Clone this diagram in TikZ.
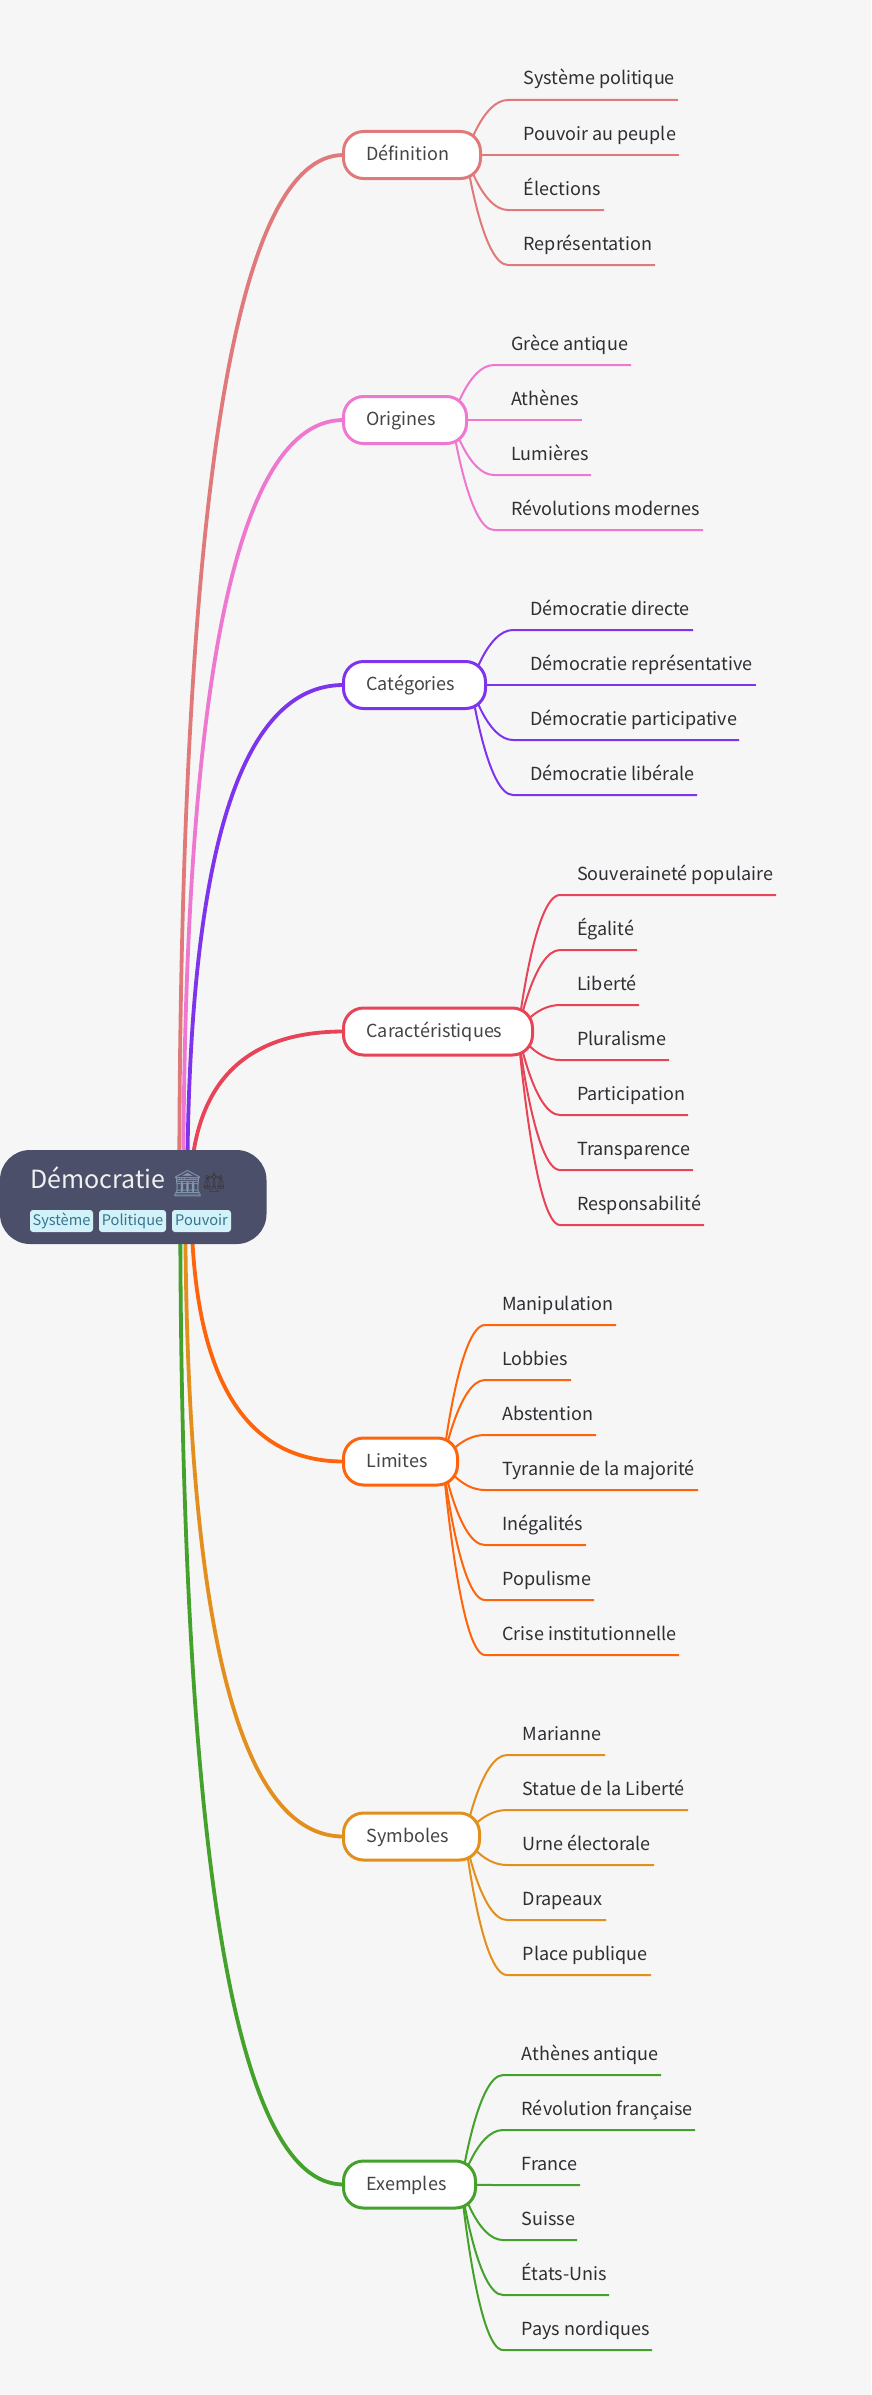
\documentclass[tikz,border=0pt]{standalone}
\usepackage{fontspec}
\setmainfont{Noto Sans CJK SC}
\newfontfamily\emojifont{Noto Emoji}
\usetikzlibrary{backgrounds,calc}
\definecolor{cbg}{HTML}{F6F6F6}
\definecolor{croot}{HTML}{4C4F69}
\definecolor{ctagbg}{HTML}{D3F1F8}
\definecolor{ctagfg}{HTML}{33758F}
\definecolor{cleaf}{HTML}{2E2E33}
\definecolor{cbox}{HTML}{444446}
\definecolor{cicona}{HTML}{8297AD}
\definecolor{ciconb}{HTML}{3A3A3E}
\definecolor{cA}{HTML}{E07A7A}
\definecolor{cB}{HTML}{EE77D0}
\definecolor{cC}{HTML}{7E34EC}
\definecolor{cD}{HTML}{E84457}
\definecolor{cE}{HTML}{FE640B}
\definecolor{cF}{HTML}{E38F1E}
\definecolor{cG}{HTML}{44A12B}
\tikzset{
  rootbox/.style={fill=croot,rounded corners=30pt,minimum width=266.5pt,minimum height=94pt,inner sep=0pt,outer sep=0pt},
  roottitle/.style={anchor=base west,inner sep=0pt,text=white!94!black,font=\fontsize{25}{30}\selectfont},
  tagbox/.style={fill=ctagbg,rounded corners=3pt,inner sep=0pt,text=ctagfg,minimum height=22pt,font=\fontsize{14.6}{18}\selectfont,text height=12pt,text depth=3pt},
  branchbox/.style={draw=#1,fill=white,line width=3pt,rounded corners=20pt,minimum height=47pt,inner ysep=0pt,outer sep=0pt,text=cbox,align=left,text height=14pt,text depth=3pt,inner xsep=23pt,font=\fontsize{18}{22}\selectfont},
  leafnode/.style={anchor=base west,inner sep=0pt,text=cleaf,font=\fontsize{18}{22}\selectfont},
  mainline/.style={draw=#1,line width=3.8pt},
  subline/.style={draw=#1,line width=2pt}
}
\newcommand{\branch}[5]{% name, text, y, right edge, colour
  \pgfmathsetmacro{\bw}{#4-1.5-343.5-46}
  \node[branchbox=#5,text width=\bw pt] (#1) at ({(#4-1.5+343.5)/2},#3) {#2};
}
\newcommand{\mainlink}[3]{% box, shift, colour
  \begin{pgfonlayer}{background}
  \coordinate (s#1) at ([xshift=#2pt]root.center);
  \draw[mainline=#3] (s#1) .. controls ($(s#1)!2/3!(s#1 |- #1.west)$) and ($(#1.west)!2/3!(s#1 |- #1.west)$) .. (#1.west);
  \end{pgfonlayer}
}
\newcommand{\leaf}[6]{% name, box, text, y, end x, colour
  \coordinate (#1c) at ([xshift=1.5pt]#2.east |- 0,#4);
  \coordinate (#1e) at ([xshift=27.5pt]#2.east |- 0,#4);
  \coordinate (#1x) at (#5,#4);
  \node[leafnode] (#1) at ([xshift=\leafgap pt,yshift=15pt]#1e) {#3};
  \begin{pgfonlayer}{background}
  \draw[subline=#6] ([xshift=-14.5pt]#2.east) .. controls ([xshift=-14.5pt]#2.east) and (#1c) .. (#1e) -- (#1x);
  \end{pgfonlayer}
}
\begin{document}
\begin{tikzpicture}[x=1pt,y=-1pt]
\useasboundingbox (0,0) rectangle (871,2395);
\begin{pgfonlayer}{background}
\fill[cbg] (0,0) rectangle (871,2395);
\end{pgfonlayer}
% root
\node[rootbox] (root) at (133.25,1197) {};
\node[roottitle] (title) at (30,1188) {Démocratie};
\node[anchor=base west,inner sep=0pt,text=cicona,font=\emojifont\fontsize{26}{30}\selectfont] (icona) at (171,1192) {🏛};
\node[anchor=base west,inner sep=0pt,text=ciconb,font=\emojifont\fontsize{19}{24}\selectfont] (iconb) at (202,1189) {⚖};
\node[tagbox,minimum width=63pt] (tag1) at (61.5,1221) {Système};
\node[tagbox,minimum width=67pt] (tag2) at (132.5,1221) {Politique};
\node[tagbox,minimum width=59pt] (tag3) at (201.5,1221) {Pouvoir};
% branches
\branch{def}{Définition}{155}{482}{cA}
\branch{ori}{Origines}{420}{468}{cB}
\branch{cat}{Catégories}{685}{487}{cC}
\branch{car}{Caractéristiques}{1031.5}{534}{cD}
\branch{lim}{Limites}{1461.5}{459}{cE}
\branch{sym}{Symboles}{1836.5}{481}{cF}
\branch{exe}{Exemples}{2184.5}{477}{cG}
\mainlink{def}{46}{cA}
\mainlink{ori}{50}{cB}
\mainlink{cat}{54}{cC}
\mainlink{car}{57}{cD}
\mainlink{lim}{58}{cE}
\mainlink{sym}{52}{cF}
\mainlink{exe}{47}{cG}
% leaves
\def\leafgap{15.5}
\leaf{a1}{def}{Système politique}{100}{678}{cA}
\leaf{a2}{def}{Pouvoir au peuple}{155}{679}{cA}
\leaf{a3}{def}{Élections}{210}{604}{cA}
\leaf{a4}{def}{Représentation}{265}{655}{cA}
\def\leafgap{17}
\leaf{b1}{ori}{Grèce antique}{365}{631}{cB}
\leaf{b2}{ori}{Athènes}{420}{582}{cB}
\leaf{b3}{ori}{Lumières}{475}{591}{cB}
\leaf{b4}{ori}{Révolutions modernes}{530}{703}{cB}
\leaf{c1}{cat}{Démocratie directe}{630}{693}{cC}
\leaf{c2}{cat}{Démocratie représentative}{685}{756}{cC}
\leaf{c3}{cat}{Démocratie participative}{740}{739}{cC}
\leaf{c4}{cat}{Démocratie libérale}{795}{697}{cC}
\leaf{d1}{car}{Souveraineté populaire}{895}{776}{cD}
\leaf{d2}{car}{Égalité}{950}{637}{cD}
\leaf{d3}{car}{Liberté}{1005}{639}{cD}
\leaf{d4}{car}{Pluralisme}{1060}{669}{cD}
\leaf{d5}{car}{Participation}{1115}{688}{cD}
\leaf{d6}{car}{Transparence}{1170}{693}{cD}
\leaf{d7}{car}{Responsabilité}{1225}{704}{cD}
\leaf{e1}{lim}{Manipulation}{1325}{616}{cE}
\leaf{e2}{lim}{Lobbies}{1380}{571}{cE}
\leaf{e3}{lim}{Abstention}{1435}{596}{cE}
\leaf{e4}{lim}{Tyrannie de la majorité}{1490}{698}{cE}
\leaf{e5}{lim}{Inégalités}{1545}{586}{cE}
\leaf{e6}{lim}{Populisme}{1600}{594}{cE}
\leaf{e7}{lim}{Crise institutionnelle}{1655}{679}{cE}
\def\leafgap{15.5}
\leaf{f1}{sym}{Marianne}{1755}{605}{cF}
\leaf{f2}{sym}{Statue de la Liberté}{1810}{688}{cF}
\leaf{f3}{sym}{Urne électorale}{1865}{654}{cF}
\leaf{f4}{sym}{Drapeaux}{1920}{606}{cF}
\leaf{f5}{sym}{Place publique}{1975}{651}{cF}
\def\leafgap{18.5}
\leaf{g1}{exe}{Athènes antique}{2075}{661}{cG}
\leaf{g2}{exe}{Révolution française}{2130}{695}{cG}
\leaf{g3}{exe}{France}{2185}{580}{cG}
\leaf{g4}{exe}{Suisse}{2240}{577}{cG}
\leaf{g5}{exe}{États-Unis}{2295}{609}{cG}
\leaf{g6}{exe}{Pays nordiques}{2350}{652}{cG}
\end{tikzpicture}
\end{document}
